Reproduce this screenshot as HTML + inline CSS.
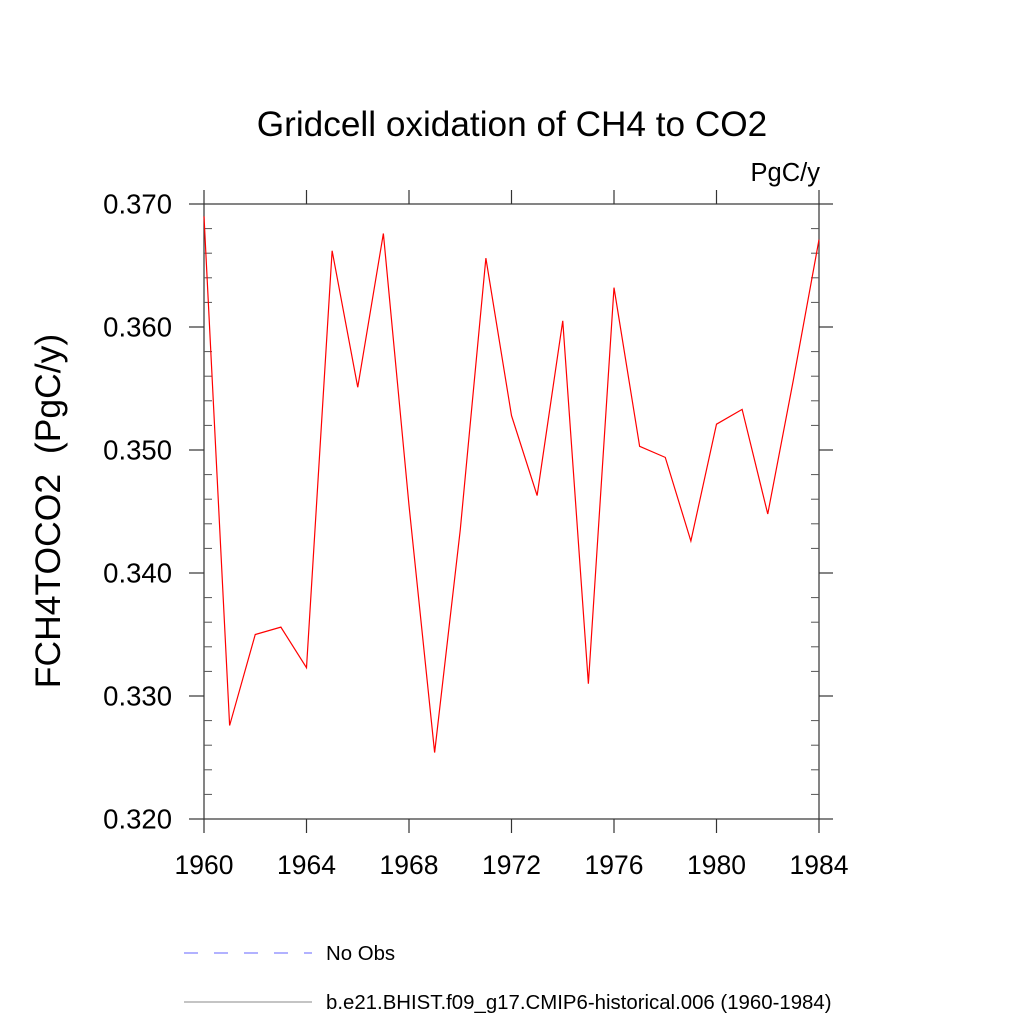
<!DOCTYPE html>
<html><head><meta charset="utf-8"><style>
html,body{margin:0;padding:0;background:#fff;}
svg{display:block;font-family:"Liberation Sans",sans-serif;}
</style></head><body>
<svg id="chart" width="1024" height="1024" viewBox="0 0 1024 1024">
<text x="512" y="136" font-size="35.2" text-anchor="middle">Gridcell oxidation of CH4 to CO2</text>
<text x="820" y="181" font-size="25.5" text-anchor="end">PgC/y</text>
<text transform="translate(60,511) rotate(-90)" font-size="35.5" text-anchor="middle" style="white-space:pre">FCH4TOCO2  (PgC/y)</text>
<g id="axes"></g>
<polyline id="series" fill="none" stroke="#ff0000" stroke-width="1.2"/>
<g>
<line x1="184" y1="953" x2="312" y2="953" stroke="#6666ff" stroke-width="1" stroke-dasharray="14,16"/>
<text x="326" y="960" font-size="20.4">No Obs</text>
<line x1="184" y1="1002" x2="312" y2="1002" stroke="#888" stroke-width="1"/>
<text x="326" y="1009" font-size="20.4">b.e21.BHIST.f09_g17.CMIP6-historical.006 (1960-1984)</text>
</g>
</svg>
<script>
const years = [1960,1961,1962,1963,1964,1965,1966,1967,1968,1969,1970,1971,1972,1973,1974,1975,1976,1977,1978,1979,1980,1981,1982,1983,1984];
const values = [0.3690,0.3276,0.3350,0.3356,0.3323,0.3662,0.3551,0.3676,0.3455,0.3254,0.3435,0.3656,0.3528,0.3463,0.3605,0.3310,0.3632,0.3503,0.3494,0.3426,0.3521,0.3533,0.3448,0.3557,0.3671];
const xTicks = [1960,1964,1968,1972,1976,1980,1984];
const yTicks = [0.320,0.330,0.340,0.350,0.360,0.370];
const yTickLabels = ["0.320","0.330","0.340","0.350","0.360","0.370"];
const X0=204,X1=819,Y0=819,Y1=204, xmin=1960,xmax=1984,ymin=0.320,ymax=0.370;
const xs = v => X0+(v-xmin)/(xmax-xmin)*(X1-X0);
const ys = v => Y0-(v-ymin)/(ymax-ymin)*(Y0-Y1);
const NS='http://www.w3.org/2000/svg';
const axes=document.getElementById('axes');
function mk(tag,attrs){const e=document.createElementNS(NS,tag);for(const k in attrs)e.setAttribute(k,attrs[k]);axes.appendChild(e);return e;}
const frame=mk('rect',{x:X0,y:Y1,width:X1-X0,height:Y0-Y1,fill:'none',stroke:'#333','stroke-width':1.2});


xTicks.forEach(t=>{const x=xs(t);
 const a=mk('line',{x1:x,y1:Y0,x2:x,y2:Y0+14,stroke:'#333','stroke-width':1.2});
 
 
 const b=mk('line',{x1:x,y1:Y1,x2:x,y2:Y1-14,stroke:'#333','stroke-width':1.2});
 
 
 const l=mk('text',{x:x,y:Y0+55,'font-size':26.5,'text-anchor':'middle'});l.textContent=t;
 
 
});
yTicks.forEach((t,i)=>{const y=ys(t);
 const a=mk('line',{x1:X0-15,y1:y,x2:X0,y2:y,stroke:'#333','stroke-width':1.2});
 
 
 const b=mk('line',{x1:X1,y1:y,x2:X1+14,y2:y,stroke:'#333','stroke-width':1.2});
 
 
 const l=mk('text',{x:X0-32,y:y+9.5,'font-size':27.5,'text-anchor':'end'});l.textContent=yTickLabels[i];
 
 
});
for(let v=ymin+0.002;v<ymax-0.0005;v+=0.002){const y=ys(v);
 if(Math.abs((v*1000)%10)<0.01||Math.abs((v*1000)%10-10)<0.01)continue;
 const a=mk('line',{x1:X0,y1:y,x2:X0+8,y2:y,stroke:'#555','stroke-width':1});
 
 
 const b=mk('line',{x1:X1-8,y1:y,x2:X1,y2:y,stroke:'#555','stroke-width':1});
 
 
}
document.getElementById('series').setAttribute('points',years.map((yr,i)=>xs(yr)+','+ys(values[i])).join(' '));
</script>
</body></html>
